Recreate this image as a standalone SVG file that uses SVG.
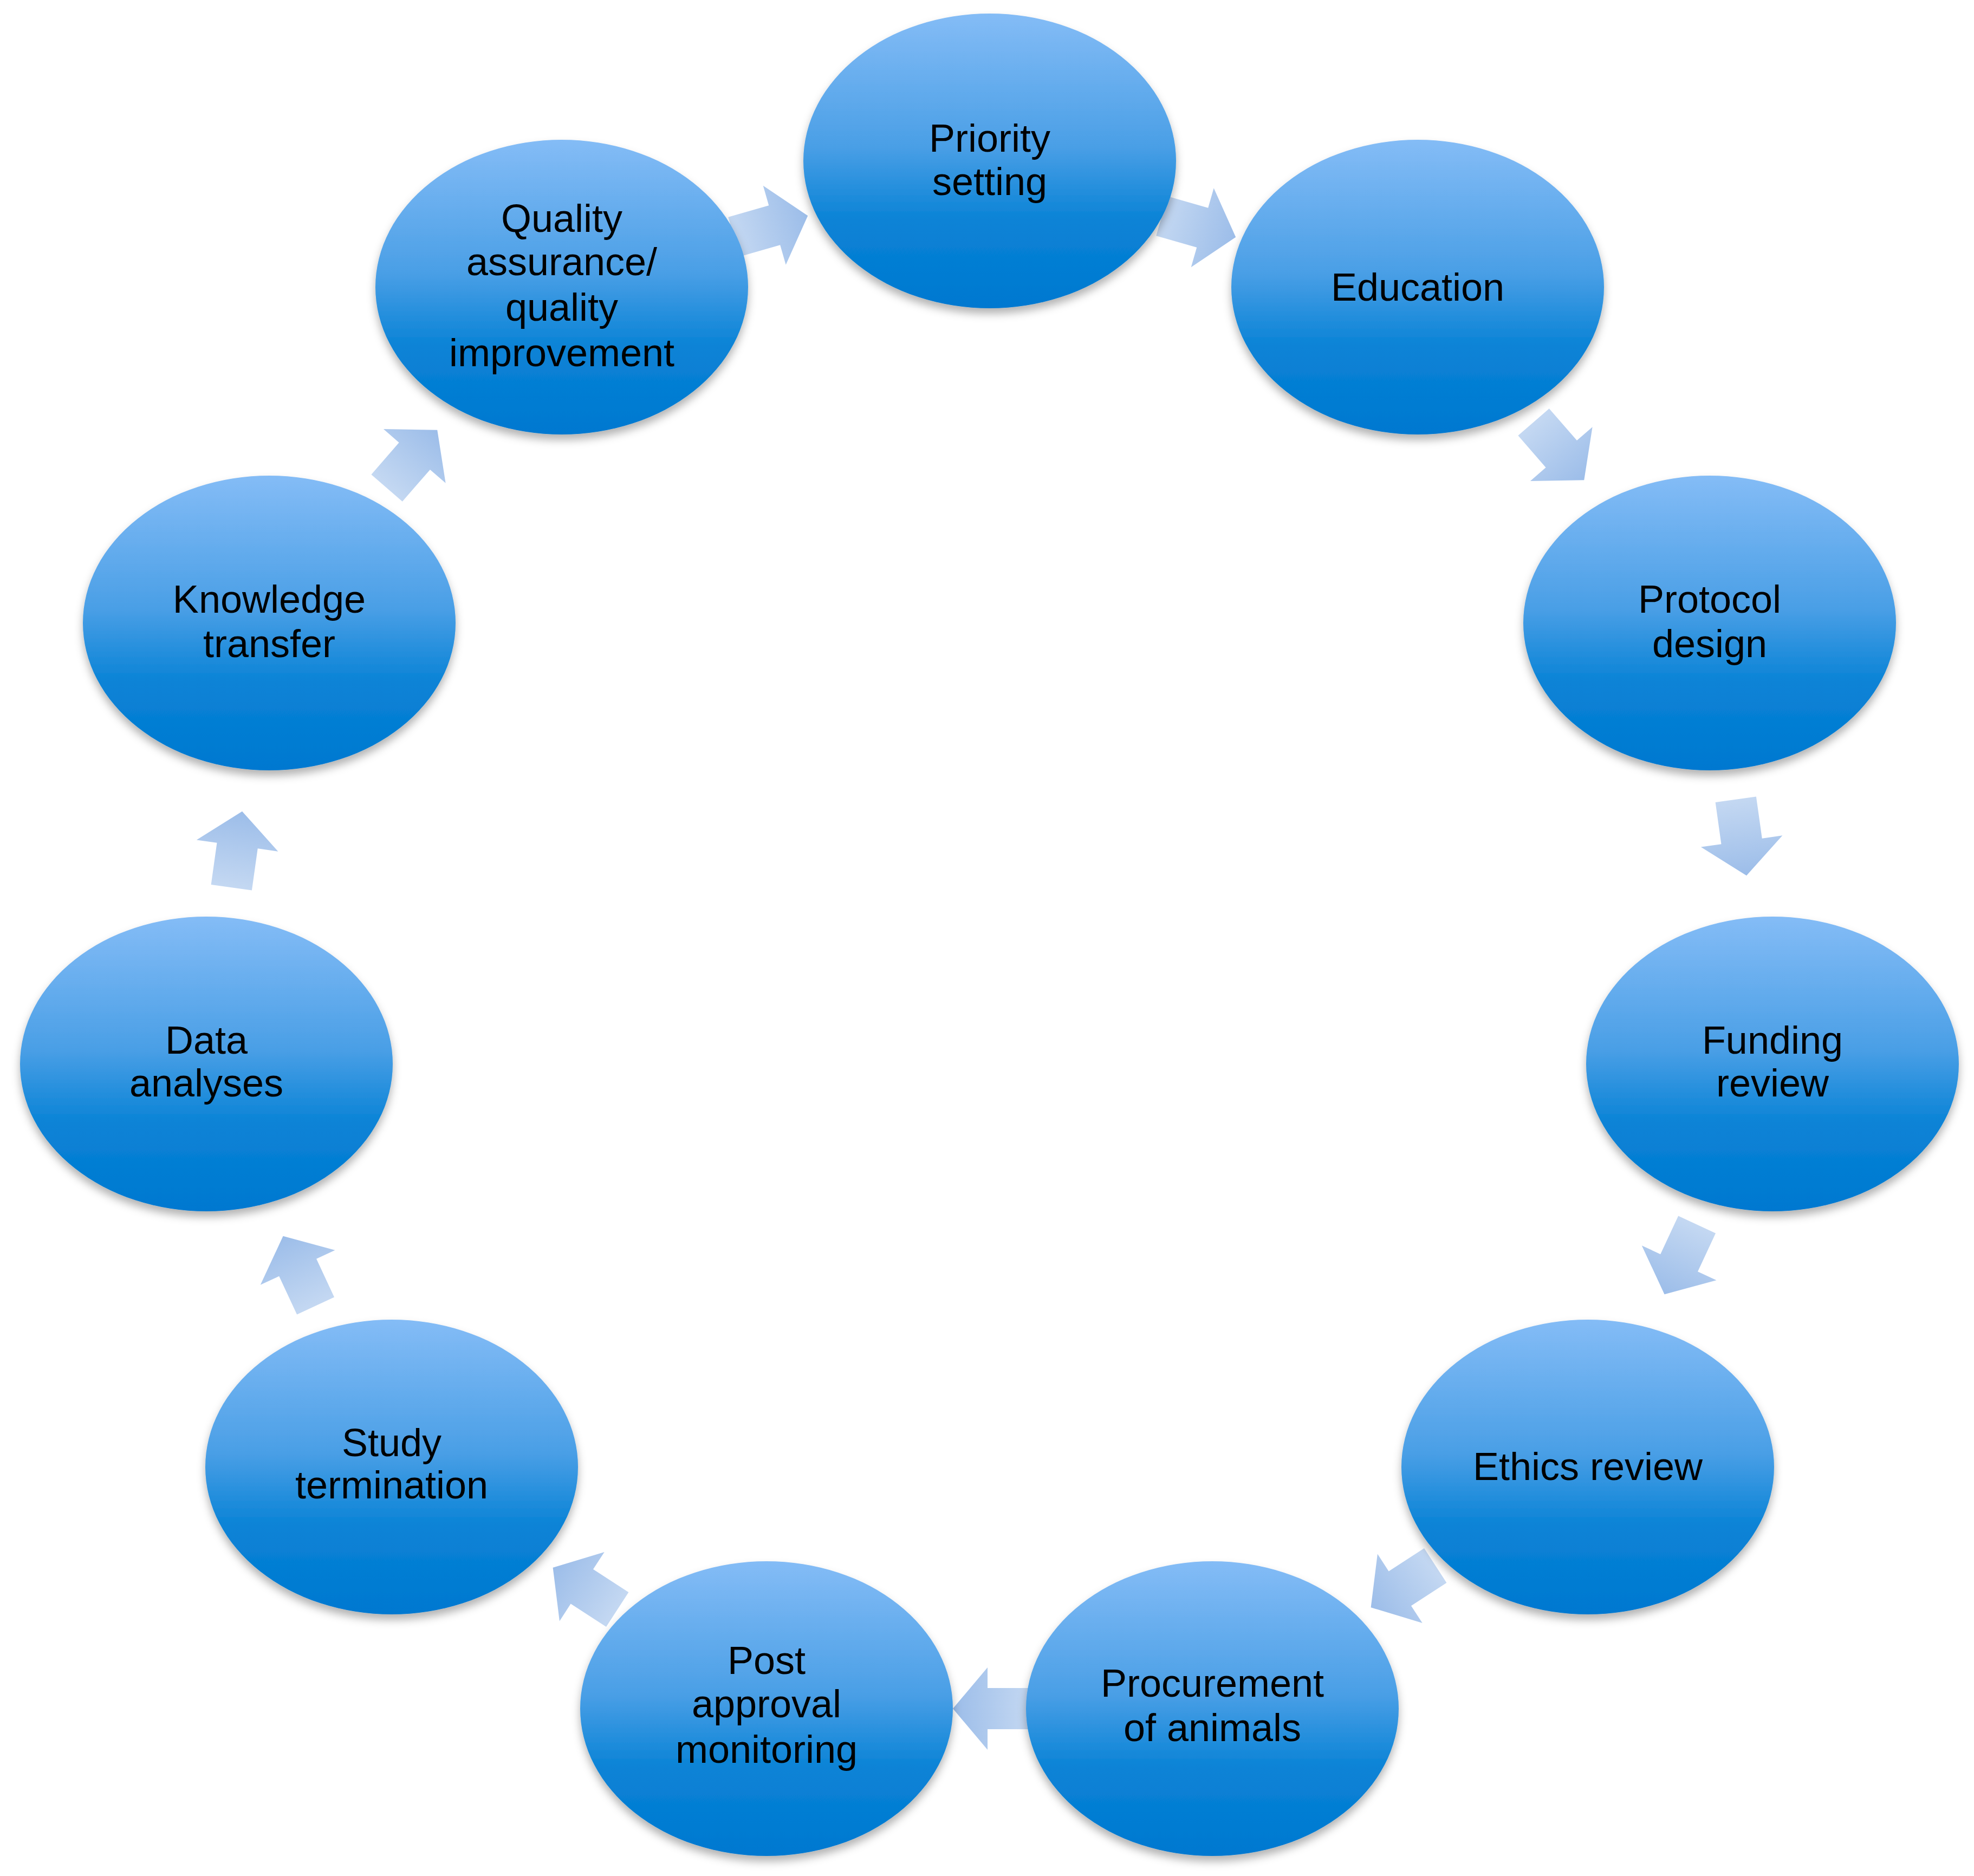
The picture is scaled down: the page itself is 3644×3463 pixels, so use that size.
<svg xmlns="http://www.w3.org/2000/svg" width="3644" height="3463" viewBox="0 0 3644 3463">
<defs>
<linearGradient id="g" x1="0" y1="0" x2="0" y2="1">
<stop offset="0" stop-color="#84bcf6"/>
<stop offset="0.45" stop-color="#4a9fe6"/>
<stop offset="0.7" stop-color="#0a83d6"/>
<stop offset="1" stop-color="#0078d0"/>
</linearGradient>
<linearGradient id="ag" x1="0" y1="0" x2="1" y2="0">
<stop offset="0" stop-color="#c4d8f2"/>
<stop offset="1" stop-color="#9cbde9"/>
</linearGradient>
<filter id="sh" x="-10%" y="-10%" width="120%" height="125%">
<feDropShadow dx="0" dy="10" stdDeviation="8" flood-color="#000" flood-opacity="0.3"/>
</filter>
<path id="arr" d="M-70,-38 L8,-38 L8,-76 L72,0 L8,76 L8,38 L-70,38 Z" fill="url(#ag)"/>
</defs>
<style>
.n ellipse{fill:url(#g);filter:url(#sh)}
.n text{font-family:"Liberation Sans",Arial,sans-serif;font-size:72px;fill:#000;text-anchor:middle}
</style>
<rect width="3644" height="3463" fill="#fff"/>
<g id="connectors">
<use href="#arr" transform="translate(1422,418) rotate(-16)"/>
<use href="#arr" transform="translate(2212,418) rotate(16)"/>
<use href="#arr" transform="translate(2877,832) rotate(49)"/>
<use href="#arr" transform="translate(3214,1545) rotate(82)"/>
<use href="#arr" transform="translate(3103,2324) rotate(115)"/>
<use href="#arr" transform="translate(2591,2928) rotate(147)"/>
<use href="#arr" transform="translate(1831,3154) rotate(180)"/>
<use href="#arr" transform="translate(1081,2933) rotate(213)"/>
<use href="#arr" transform="translate(553,2347) rotate(245)"/>
<use href="#arr" transform="translate(437,1569) rotate(278)"/>
<use href="#arr" transform="translate(760,848) rotate(311)"/>
</g>
<g id="priority" class="n"><ellipse cx="1827" cy="297" rx="344" ry="272"/><text x="1827" y="280">Priority</text><text x="1827" y="360">setting</text></g>
<g id="education" class="n"><ellipse cx="2617" cy="530" rx="344" ry="272"/><text x="2617" y="555">Education</text></g>
<g id="quality" class="n"><ellipse cx="1037" cy="530" rx="344" ry="272"/><text x="1037" y="428">Quality</text><text x="1037" y="508">assurance/</text><text x="1037" y="592">quality</text><text x="1037" y="676">improvement</text></g>
<g id="protocol" class="n"><ellipse cx="3156" cy="1150" rx="344" ry="272"/><text x="3156" y="1131">Protocol</text><text x="3156" y="1213">design</text></g>
<g id="knowledge" class="n"><ellipse cx="497" cy="1150" rx="344" ry="272"/><text x="497" y="1131">Knowledge</text><text x="497" y="1213">transfer</text></g>
<g id="funding" class="n"><ellipse cx="3272" cy="1964" rx="344" ry="272"/><text x="3272" y="1945">Funding</text><text x="3272" y="2024">review</text></g>
<g id="data" class="n"><ellipse cx="381" cy="1964" rx="344" ry="272"/><text x="381" y="1945">Data</text><text x="381" y="2024">analyses</text></g>
<g id="ethics" class="n"><ellipse cx="2931" cy="2708" rx="344" ry="272"/><text x="2931" y="2732">Ethics review</text></g>
<g id="study" class="n"><ellipse cx="723" cy="2708" rx="344" ry="272"/><text x="723" y="2688">Study</text><text x="723" y="2766">termination</text></g>
<g id="procurement" class="n"><ellipse cx="2238" cy="3154" rx="344" ry="272"/><text x="2238" y="3132">Procurement</text><text x="2238" y="3214">of animals</text></g>
<g id="post" class="n"><ellipse cx="1415" cy="3154" rx="344" ry="272"/><text x="1415" y="3090">Post</text><text x="1415" y="3170">approval</text><text x="1415" y="3254">monitoring</text></g>
</svg>
